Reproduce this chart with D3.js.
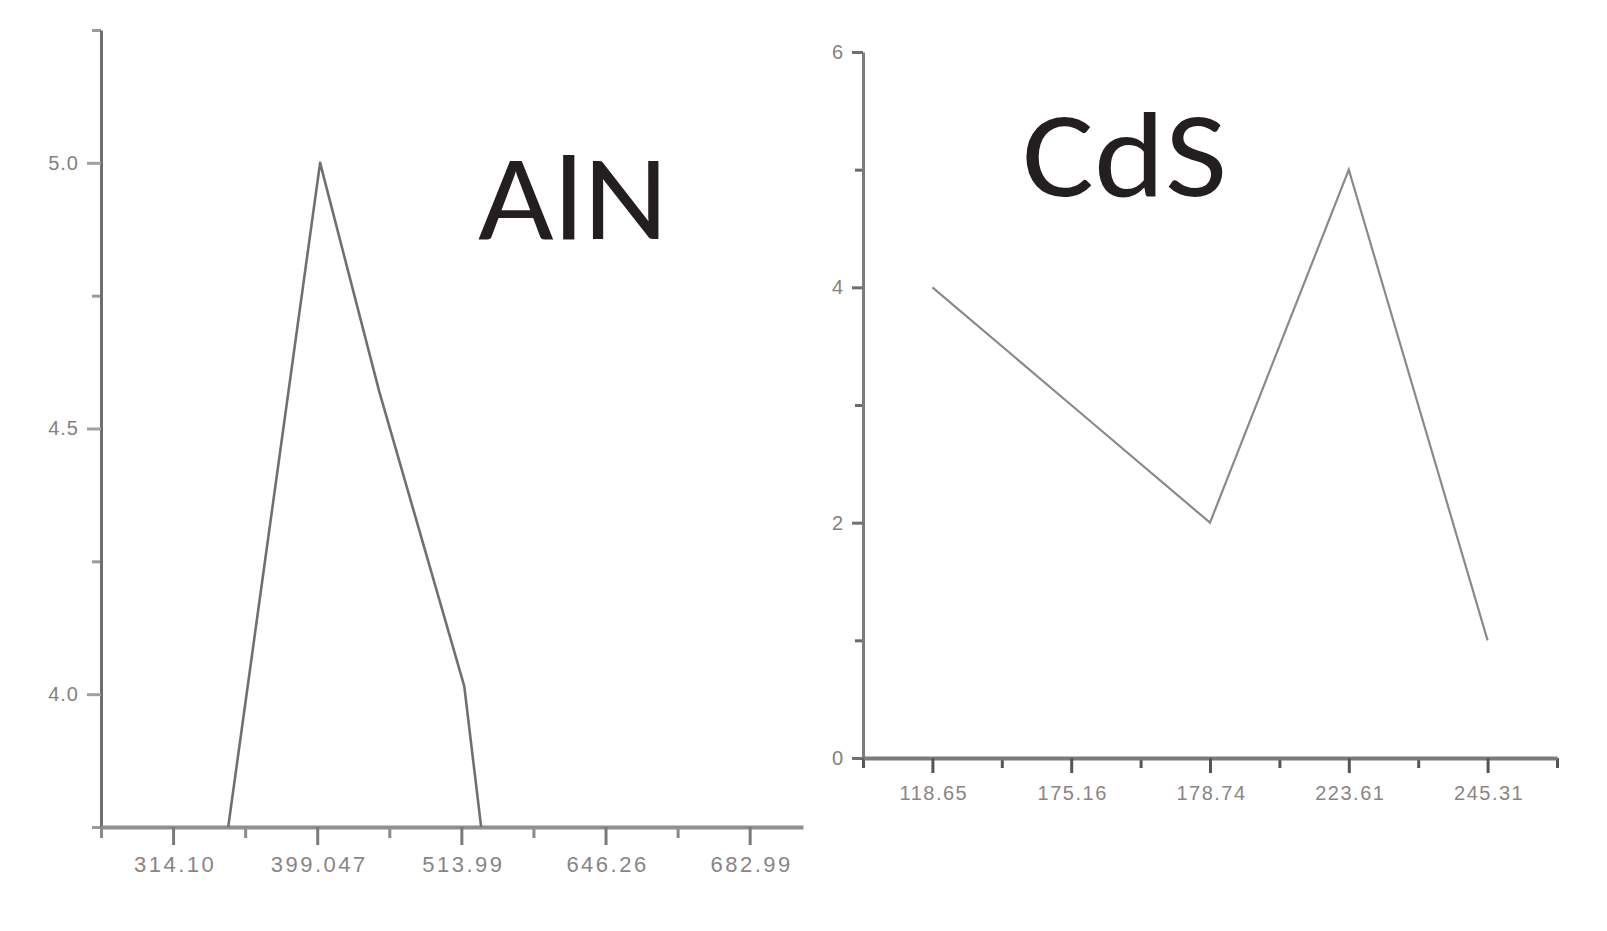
<!DOCTYPE html>
<html><head><meta charset="utf-8">
<script src="https://cdn.jsdelivr.net/npm/d3@7"></script>
<style>body{margin:0;background:#fff;} svg{display:block}</style>
</head><body>
<svg id="c" width="1607" height="931"></svg>
<script>
// ---------- Data: AlN (left panel) ----------
const alnCategories = ["314.10", "399.047", "513.99", "646.26", "682.99"];
const alnX = [0, 1.02, 1.43, 2.02, 3];            // position along the category axis (index units)
const alnValues = [3.0, 5.0, 4.57, 4.015, 1.8];
const alnMajorY = [4.0, 4.5, 5.0];
const alnMinorY = [3.75, 4.25, 4.75, 5.25];
const alnYLabels = ["4.0", "4.5", "5.0"];

// ---------- Data: CdS (right panel) ----------
const cdsCategories = ["118.65", "175.16", "178.74", "223.61", "245.31"];
const cdsValues = [4, 3, 2, 5, 1];
const cdsMajorY = [0, 2, 4, 6];
const cdsMinorY = [1, 3, 5];
const cdsYLabels = ["0", "2", "4", "6"];

const titles = ["AlN", "CdS"];

const svg = d3.select("#c");

// ---------- Left panel ----------
const xL = d3.scaleLinear().domain([-0.5, 4.37]).range([101, 803]);
const yL = d3.scaleLinear().domain([3.75, 5.25]).range([827, 30]);
const L = svg.append("g");

L.append("defs").append("clipPath").attr("id", "clipL")
  .append("rect").attr("x", xL.range()[0]).attr("y", yL.range()[1])
  .attr("width", xL.range()[1] - xL.range()[0]).attr("height", yL.range()[0] - yL.range()[1]);

function styleAxis(g, col, w, tickCol, tickW) {
  g.select(".domain").attr("stroke", col).attr("stroke-width", w);
  g.selectAll(".tick line").attr("stroke", tickCol).attr("stroke-width", tickW);
}

// left y minor
L.append("g").attr("transform", `translate(${xL.range()[0]},0)`)
  .call(d3.axisLeft(yL).tickValues(alnMinorY).tickSize(9).tickFormat(""))
  .call(g => g.select(".domain").remove())
  .call(g => g.selectAll(".tick line").attr("stroke", "#9a9a9a").attr("stroke-width", 3));
// left y major
L.append("g").attr("transform", `translate(${xL.range()[0]},0)`)
  .call(d3.axisLeft(yL).tickValues(alnMajorY).tickSize(14).tickSizeOuter(0).tickPadding(9)
        .tickFormat((d, i) => alnYLabels[i]))
  .call(g => styleAxis(g, "#6e6e6e", 3, "#a0a0a0", 3))
  .call(g => g.selectAll("text").attr("font-family", "Liberation Sans, Arial, sans-serif")
        .attr("font-size", 20).attr("letter-spacing", 1).attr("fill", "#857f80").attr("dx", 1));

// left x minor
L.append("g").attr("transform", `translate(0,${yL.range()[0]})`)
  .call(d3.axisBottom(xL).tickValues([-0.5, 0.5, 1.5, 2.5, 3.5]).tickSize(11).tickFormat(""))
  .call(g => g.select(".domain").remove())
  .call(g => g.selectAll(".tick line").attr("stroke", "#8a8a8a").attr("stroke-width", 3));
// left x major
L.append("g").attr("transform", `translate(0,${yL.range()[0]})`)
  .call(d3.axisBottom(xL).tickValues(d3.range(alnCategories.length)).tickSize(18).tickSizeOuter(0)
        .tickFormat(i => alnCategories[i]))
  .call(g => styleAxis(g, "#8f8f8f", 4, "#7a7a7a", 3))
  .call(g => g.selectAll("text").attr("font-family", "Liberation Sans, Arial, sans-serif")
        .attr("font-size", 22).attr("letter-spacing", 2.5).attr("fill", "#8a8485")
        .attr("y", 37).attr("dy", "0.35em").attr("dx", 1.5));

// left line
const lineL = d3.line().x(d => xL(d[0])).y(d => yL(d[1]));
L.append("path").datum(alnX.map((x, i) => [x, alnValues[i]]))
  .attr("d", lineL).attr("fill", "none").attr("stroke", "#707070").attr("stroke-width", 2.6)
  .attr("stroke-linejoin", "round").attr("clip-path", "url(#clipL)");

// ---------- Right panel ----------
const xR = d3.scaleLinear().domain([-0.5, 4.5]).range([863, 1557]);
const yR = d3.scaleLinear().domain([0, 6]).range([758, 52]);
const R = svg.append("g");

R.append("g").attr("transform", `translate(${xR.range()[0]},0)`)
  .call(d3.axisLeft(yR).tickValues(cdsMinorY).tickSize(8).tickFormat(""))
  .call(g => g.select(".domain").remove())
  .call(g => g.selectAll(".tick line").attr("stroke", "#6a6a6a").attr("stroke-width", 3));
R.append("g").attr("transform", `translate(${xR.range()[0]},0)`)
  .call(d3.axisLeft(yR).tickValues(cdsMajorY).tickSize(11).tickSizeOuter(0).tickPadding(9)
        .tickFormat((d, i) => cdsYLabels[i]))
  .call(g => styleAxis(g, "#7d7d7d", 3, "#6f6f6f", 3))
  .call(g => g.selectAll("text").attr("font-family", "Liberation Sans, Arial, sans-serif")
        .attr("font-size", 20).attr("fill", "#857f80"));

R.append("g").attr("transform", `translate(0,${yR.range()[0]})`)
  .call(d3.axisBottom(xR).tickValues([-0.5, 0.5, 1.5, 2.5, 3.5, 4.5]).tickSize(10).tickFormat(""))
  .call(g => g.select(".domain").remove())
  .call(g => g.selectAll(".tick line").attr("stroke", "#555").attr("stroke-width", 3));
R.append("g").attr("transform", `translate(0,${yR.range()[0]})`)
  .call(d3.axisBottom(xR).tickValues(d3.range(cdsCategories.length)).tickSize(15).tickSizeOuter(0)
        .tickFormat(i => cdsCategories[i]))
  .call(g => styleAxis(g, "#7b7b7b", 4, "#555", 3))
  .call(g => g.selectAll("text").attr("font-family", "Liberation Sans, Arial, sans-serif")
        .attr("font-size", 20).attr("letter-spacing", 1.5).attr("fill", "#8a8485")
        .attr("y", 35).attr("dy", "0.35em").attr("dx", 1));

const lineR = d3.line().x((d, i) => xR(i)).y(d => yR(d));
R.append("path").datum(cdsValues).attr("d", lineR).attr("fill", "none")
  .attr("stroke", "#8a8a8a").attr("stroke-width", 2.2).attr("stroke-linejoin", "miter");

// ---------- Titles ----------
svg.append("text").attr("x", 478).attr("y", 239).text(titles[0])
  .attr("font-family", "Carlito, Calibri, 'Open Sans', sans-serif").attr("font-size", 122)
  .attr("fill", "#231f20").attr("textLength", 190).attr("lengthAdjust", "spacingAndGlyphs");
svg.append("text").attr("x", 1022).attr("y", 196).text(titles[1])
  .attr("font-family", "Carlito, Calibri, 'Open Sans', sans-serif").attr("font-size", 122)
  .attr("fill", "#231f20").attr("textLength", 205).attr("lengthAdjust", "spacingAndGlyphs");
</script>
</body></html>
